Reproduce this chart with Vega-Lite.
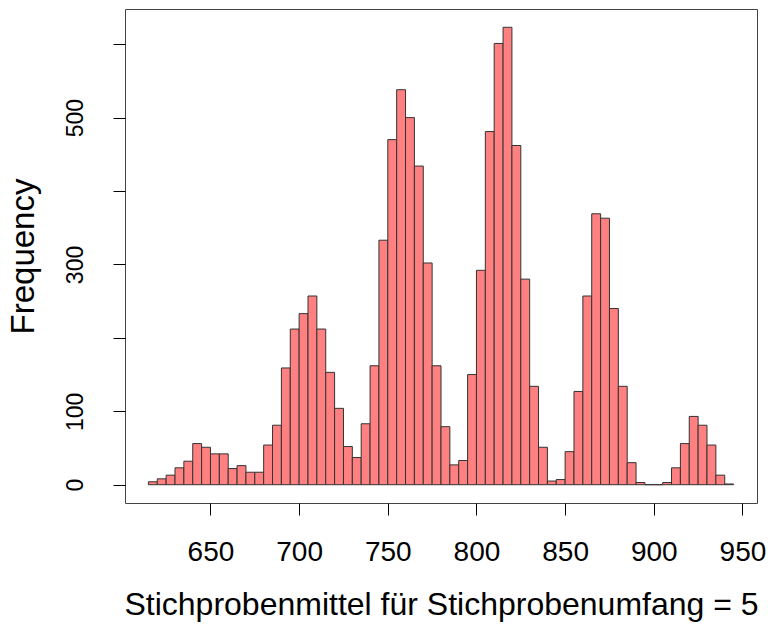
{
  "$schema": "https://vega.github.io/schema/vega-lite/v6.json",
  "width": 632,
  "height": 494,
  "autosize": {"type": "none"},
  "padding": {"left": 125, "top": 9, "right": 15, "bottom": 121},
  "background": "white",
  "config": {
    "font": "Liberation Sans",
    "view": {"stroke": "#444444", "strokeWidth": 1}
  },
  "data": {
    "values": [
      {"start": 615, "end": 620, "count": 4},
      {"start": 620, "end": 625, "count": 8},
      {"start": 625, "end": 630, "count": 13},
      {"start": 630, "end": 635, "count": 23},
      {"start": 635, "end": 640, "count": 32},
      {"start": 640, "end": 645, "count": 56},
      {"start": 645, "end": 650, "count": 51},
      {"start": 650, "end": 655, "count": 42},
      {"start": 655, "end": 660, "count": 42},
      {"start": 660, "end": 665, "count": 22},
      {"start": 665, "end": 670, "count": 26},
      {"start": 670, "end": 675, "count": 17},
      {"start": 675, "end": 680, "count": 17},
      {"start": 680, "end": 685, "count": 54},
      {"start": 685, "end": 690, "count": 81},
      {"start": 690, "end": 695, "count": 159},
      {"start": 695, "end": 700, "count": 212},
      {"start": 700, "end": 705, "count": 233},
      {"start": 705, "end": 710, "count": 257},
      {"start": 710, "end": 715, "count": 212},
      {"start": 715, "end": 720, "count": 153},
      {"start": 720, "end": 725, "count": 104},
      {"start": 725, "end": 730, "count": 52},
      {"start": 730, "end": 735, "count": 37},
      {"start": 735, "end": 740, "count": 83},
      {"start": 740, "end": 745, "count": 162},
      {"start": 745, "end": 750, "count": 333},
      {"start": 750, "end": 755, "count": 470},
      {"start": 755, "end": 760, "count": 538},
      {"start": 760, "end": 765, "count": 500},
      {"start": 765, "end": 770, "count": 434},
      {"start": 770, "end": 775, "count": 302},
      {"start": 775, "end": 780, "count": 162},
      {"start": 780, "end": 785, "count": 79},
      {"start": 785, "end": 790, "count": 27},
      {"start": 790, "end": 795, "count": 33},
      {"start": 795, "end": 800, "count": 150},
      {"start": 800, "end": 805, "count": 292},
      {"start": 805, "end": 810, "count": 481},
      {"start": 810, "end": 815, "count": 601},
      {"start": 815, "end": 820, "count": 623},
      {"start": 820, "end": 825, "count": 462},
      {"start": 825, "end": 830, "count": 280},
      {"start": 830, "end": 835, "count": 134},
      {"start": 835, "end": 840, "count": 51},
      {"start": 840, "end": 845, "count": 5},
      {"start": 845, "end": 850, "count": 7},
      {"start": 850, "end": 855, "count": 45},
      {"start": 855, "end": 860, "count": 127},
      {"start": 860, "end": 865, "count": 257},
      {"start": 865, "end": 870, "count": 369},
      {"start": 870, "end": 875, "count": 363},
      {"start": 875, "end": 880, "count": 240},
      {"start": 880, "end": 885, "count": 134},
      {"start": 885, "end": 890, "count": 30},
      {"start": 890, "end": 895, "count": 3},
      {"start": 895, "end": 900, "count": 0},
      {"start": 900, "end": 905, "count": 0},
      {"start": 905, "end": 910, "count": 3},
      {"start": 910, "end": 915, "count": 23},
      {"start": 915, "end": 920, "count": 56},
      {"start": 920, "end": 925, "count": 93},
      {"start": 925, "end": 930, "count": 81},
      {"start": 930, "end": 935, "count": 54},
      {"start": 935, "end": 940, "count": 13},
      {"start": 940, "end": 945, "count": 1}
    ]
  },
  "mark": {"type": "bar", "fill": "#ff8080", "stroke": "#333333", "strokeWidth": 1, "fillOpacity": 1},
  "encoding": {
    "x": {
      "field": "start",
      "type": "quantitative",
      "scale": {"domain": [601.8, 958.2], "nice": false, "zero": false},
      "axis": {
        "title": "Stichprobenmittel für Stichprobenumfang = 5",
        "values": [650, 700, 750, 800, 850, 900, 950],
        "domain": false,
        "grid": false,
        "tickSize": 12,
        "tickColor": "black",
        "tickWidth": 1,
        "labelFontSize": 28,
        "labelColor": "black",
        "labelPadding": 23,
        "labelFlush": false,
        "labelOverlap": false,
        "titleFontSize": 32,
        "titleFontWeight": "normal",
        "titleColor": "black",
        "titlePadding": 23
      }
    },
    "x2": {"field": "end"},
    "y": {
      "field": "count",
      "type": "quantitative",
      "scale": {"domain": [-24.92, 647.92], "nice": false, "zero": false},
      "axis": {
        "title": "Frequency",
        "values": [0, 100, 200, 300, 400, 500, 600],
        "labelExpr": "(datum.value == 200 || datum.value == 400 || datum.value == 600) ? '' : datum.label",
        "labelAngle": -90,
        "domain": false,
        "grid": false,
        "tickSize": 12,
        "tickColor": "black",
        "tickWidth": 1,
        "labelFontSize": 23,
        "labelColor": "black",
        "labelPadding": 26,
        "labelOverlap": false,
        "titleFontSize": 33,
        "titleFontWeight": "normal",
        "titleColor": "black",
        "titlePadding": 24
      }
    },
    "y2": {"datum": 0}
  }
}
